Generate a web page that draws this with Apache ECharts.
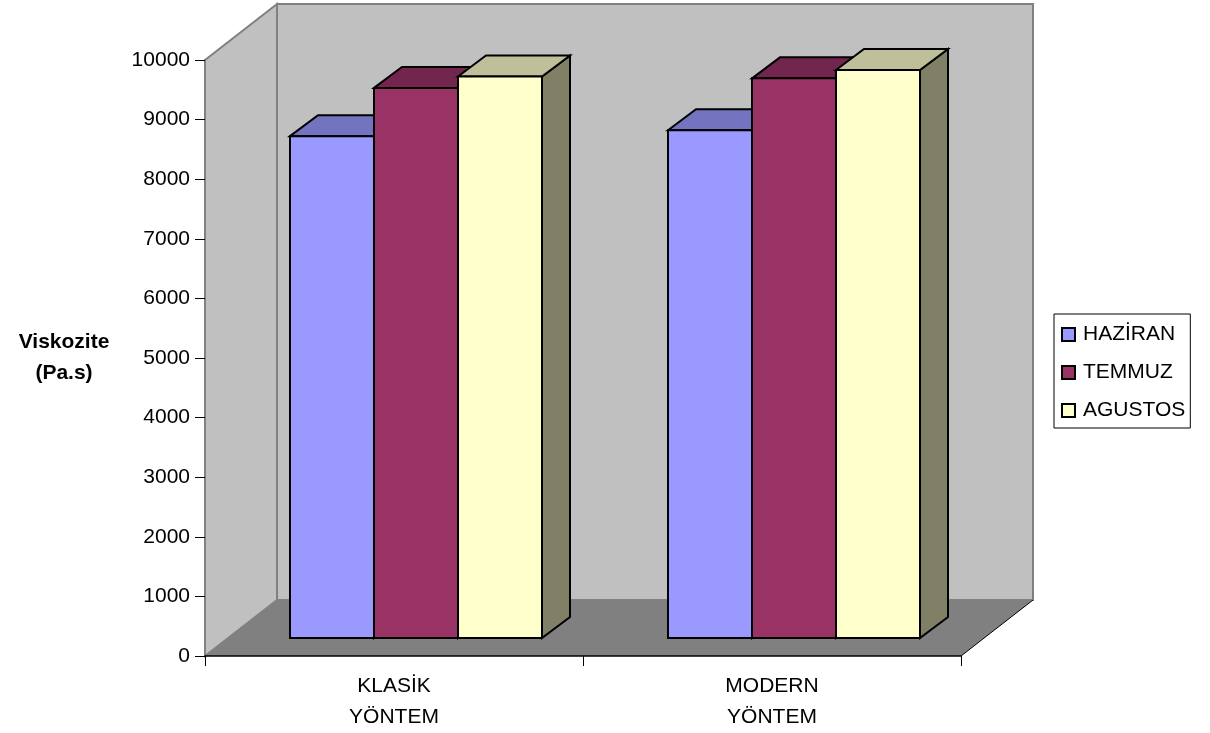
<!DOCTYPE html>
<html>
<head>
<meta charset="utf-8">
<style>html,body{margin:0;padding:0;background:#fff}#c{width:1210px;height:733px}</style>
<script src="https://cdn.jsdelivr.net/npm/echarts@6/dist/echarts.min.js"></script>
</head>
<body>
<div id="c"></div>
<script>
// Viscosity by method and month
const categories = ['KLASİK\nYÖNTEM', 'MODERN\nYÖNTEM'];
const seriesNames = ['HAZİRAN', 'TEMMUZ', 'AGUSTOS'];
const haziran = [8420, 8520];
const temmuz = [9230, 9390];
const agustos = [9420, 9530];
const yTicks = { min: 0, max: 10000, interval: 1000 };

const FONT = '"Liberation Sans", Arial, sans-serif';
// Room depth, gap in front of the bars, and bar depth, in pixels
const ROOM = [72, -56];
const GAP = [22, -18];
const DEPTH = [28, -21];
const BAR_SHARE = 84 / 378;

const face = (points, fill, lineWidth, stroke) => ({
  type: 'polygon',
  shape: { points },
  style: { fill, stroke: stroke || '#000', lineWidth, lineJoin: 'miter' }
});

// Back wall, side wall and floor of the chart room
function renderRoom(params) {
  const s = params.coordSys;
  const l = s.x, r = s.x + s.width, t = s.y, b = s.y + s.height;
  const dx = ROOM[0], dy = ROOM[1];
  return {
    type: 'group',
    children: [
      face([[l + dx, t + dy], [r + dx, t + dy], [r + dx, b + dy], [l + dx, b + dy]], '#C0C0C0', 2, '#808080'),
      face([[l, t], [l + dx, t + dy], [l + dx, b + dy], [l, b]], '#C0C0C0', 2, '#808080'),
      face([[l, b], [l + dx, b + dy], [r + dx, b + dy], [r, b]], '#808080', 0, 'none'),
      { type: 'line', shape: { x1: r, y1: b, x2: r + dx, y2: b + dy }, style: { stroke: '#000', lineWidth: 1 } }
    ]
  };
}

// One box per category, offset by its slot within the cluster
function boxRenderer(slot, front, top, side) {
  return function (params, api) {
    const i = api.value(0);
    const band = api.size([1, 0])[0];
    const bw = band * BAR_SHARE;
    const head = api.coord([i, api.value(1)]);
    const foot = api.coord([i, 0]);
    const x0 = head[0] + GAP[0] - 1.5 * bw + slot * bw;
    const x1 = x0 + bw;
    const y0 = head[1] + GAP[1];
    const y1 = foot[1] + GAP[1];
    const dx = DEPTH[0], dy = DEPTH[1];
    const lw = 2;
    return {
      type: 'group',
      children: [
        face([[x1, y0], [x1 + dx, y0 + dy], [x1 + dx, y1 + dy], [x1, y1]], side, lw),
        face([[x0, y0], [x0 + dx, y0 + dy], [x1 + dx, y0 + dy], [x1, y0]], top, lw),
        face([[x0, y0], [x1, y0], [x1, y1], [x0, y1]], front, lw)
      ]
    };
  };
}

const boxSeries = (name, values, slot, front, top, side) => ({
  type: 'custom',
  name,
  z: 3 + slot,
  clip: false,
  itemStyle: { color: front, borderColor: '#000', borderWidth: 2 },
  encode: { x: 0, y: 1 },
  data: values.map((v, i) => [i, v]),
  renderItem: boxRenderer(slot, front, top, side)
});

const chart = echarts.init(document.getElementById('c'));
chart.setOption({
  animation: false,
  backgroundColor: '#fff',
  textStyle: { fontFamily: FONT, color: '#000' },
  grid: { left: 205, top: 60, width: 756, height: 596, outerBoundsMode: 'none', containLabel: false },
  legend: {
    orient: 'vertical',
    left: 1054,
    top: 314,
    padding: [10, 5, 7, 7],
    itemGap: 17,
    itemWidth: 13,
    itemHeight: 13,
    borderColor: '#000',
    borderWidth: 1,
    icon: 'rect',
    data: seriesNames,
    textStyle: { fontFamily: FONT, fontSize: 21, color: '#000', padding: [0, 0, 0, 3] }
  },
  xAxis: {
    type: 'category',
    data: categories,
    z: 2,
    axisLine: { lineStyle: { color: '#000', width: 1.5 } },
    axisTick: { show: true, length: 10, lineStyle: { color: '#000', width: 1 } },
    axisLabel: { fontFamily: FONT, fontSize: 21, color: '#000', lineHeight: 31, margin: 15 }
  },
  yAxis: {
    type: 'value',
    min: yTicks.min,
    max: yTicks.max,
    interval: yTicks.interval,
    z: 2,
    name: 'Viskozite\n(Pa.s)',
    nameLocation: 'middle',
    nameRotate: 0,
    nameGap: 141,
    nameTextStyle: { fontFamily: FONT, fontSize: 21, fontWeight: 'bold', color: '#000', lineHeight: 31, align: 'center', verticalAlign: 'middle' },
    splitLine: { show: false },
    axisLine: { show: true, lineStyle: { color: '#808080', width: 2 } },
    axisTick: { show: true, length: 10, lineStyle: { color: '#000', width: 1 } },
    axisLabel: { fontFamily: FONT, fontSize: 21, color: '#000', margin: 15, formatter: (v) => String(v) }
  },
  series: [
    { type: 'custom', silent: true, z: 1, clip: false, data: [[0, 0]], encode: { x: 0, y: 1 }, renderItem: renderRoom },
    boxSeries(seriesNames[0], haziran, 0, '#9999FF', '#7373BF', '#4D4D80'),
    boxSeries(seriesNames[1], temmuz, 1, '#993366', '#73264D', '#4D1A33'),
    boxSeries(seriesNames[2], agustos, 2, '#FFFFCC', '#BFBF99', '#808066')
  ]
});
</script>
</body>
</html>
